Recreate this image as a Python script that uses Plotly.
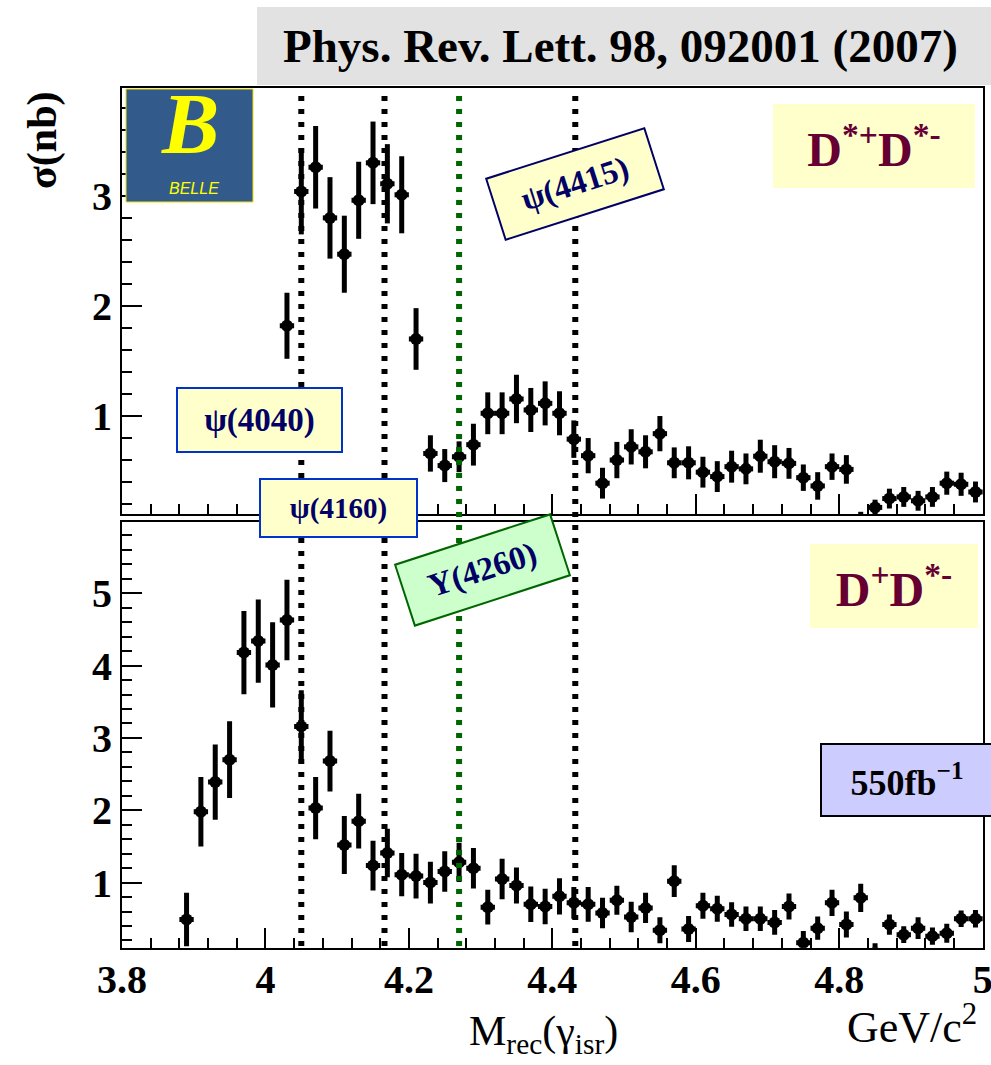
import plotly.graph_objects as go

W, H = 991, 1065

# ---------------- data ----------------
mass_gev = [3.89, 3.91, 3.93, 3.95, 3.97, 3.99, 4.01, 4.03, 4.05, 4.07,
            4.09, 4.11, 4.13, 4.15, 4.17, 4.19, 4.21, 4.23, 4.25, 4.27,
            4.29, 4.31, 4.33, 4.35, 4.37, 4.39, 4.41, 4.43, 4.45, 4.47,
            4.49, 4.51, 4.53, 4.55, 4.57, 4.59, 4.61, 4.63, 4.65, 4.67,
            4.69, 4.71, 4.73, 4.75, 4.77, 4.79, 4.81, 4.83, 4.85, 4.87,
            4.89, 4.91, 4.93, 4.95, 4.97, 4.99]
bin_half_width = [0.01] * len(mass_gev)

# D*+ D*- cross section (nb)
dstar_dstar_xs = [None, None, None, None, None, None, None, 1.82, 3.04, 3.26,
                  2.80, 2.47, 2.96, 3.30, 3.11, 3.01, 1.70, 0.66, 0.55, 0.63,
                  0.74, 1.025, 1.025, 1.155, 1.055, 1.115, 1.025, 0.79, 0.64, 0.39,
                  0.60, 0.72, 0.675, 0.84, 0.575, 0.575, 0.49, 0.45, 0.54, 0.52,
                  0.635, 0.585, 0.57, 0.44, 0.365, 0.54, 0.515, 0.05, 0.17, 0.25,
                  0.265, 0.23, 0.265, 0.39, 0.38, 0.31]
dstar_dstar_err = [0, 0, 0, 0, 0, 0, 0, 0.30, 0.39, 0.375,
                   0.37, 0.35, 0.35, 0.375, 0.36, 0.35, 0.28, 0.165, 0.15, 0.14,
                   0.19, 0.19, 0.19, 0.22, 0.20, 0.20, 0.20, 0.17, 0.16, 0.14,
                   0.165, 0.16, 0.15, 0.16, 0.14, 0.15, 0.14, 0.14, 0.145, 0.14,
                   0.15, 0.15, 0.14, 0.12, 0.125, 0.12, 0.13, 0.08, 0.07, 0.09,
                   0.09, 0.09, 0.09, 0.105, 0.105, 0.095]

# D+ D*- cross section (nb)
dplus_dstar_xs = [0.49, 1.98, 2.39, 2.70, 4.18, 4.34, 4.01, 4.63, 3.16, 2.03,
                  2.68, 1.52, 1.85, 1.235, 1.41, 1.11, 1.09, 1.00, 1.155, 1.28,
                  1.20, 0.66, 1.05, 0.96, 0.70, 0.67, 0.81, 0.72, 0.70, 0.58,
                  0.755, 0.525, 0.65, 0.34, 1.02, 0.36, 0.68, 0.64, 0.56, 0.50,
                  0.50, 0.45, 0.67, 0.17, 0.37, 0.72, 0.42, 0.79, 0.03, 0.42,
                  0.28, 0.37, 0.26, 0.30, 0.50, 0.50]
dplus_dstar_err = [0.37, 0.48, 0.52, 0.53, 0.575, 0.575, 0.59, 0.556, 0.50, 0.43,
                   0.42, 0.40, 0.38, 0.345, 0.335, 0.30, 0.31, 0.29, 0.28, 0.27,
                   0.28, 0.24, 0.28, 0.25, 0.245, 0.245, 0.25, 0.22, 0.24, 0.21,
                   0.20, 0.21, 0.21, 0.18, 0.22, 0.18, 0.18, 0.18, 0.17, 0.17,
                   0.17, 0.17, 0.18, 0.16, 0.16, 0.18, 0.18, 0.195, 0.13, 0.14,
                   0.115, 0.15, 0.12, 0.13, 0.115, 0.12]

resonance_names = ["ψ(4040)", "ψ(4160)", "Y(4260)", "ψ(4415)"]
resonance_mass = [4.05, 4.166, 4.27, 4.432]
resonance_color = ["black", "black", "#006600", "black"]

x_tick_vals = [3.8, 4.0, 4.2, 4.4, 4.6, 4.8, 5.0]
x_tick_text = ["3.8", "4", "4.2", "4.4", "4.6", "4.8", "5"]
top_y_ticks = [1, 2, 3]
bottom_y_ticks = [1, 2, 3, 4, 5]


def px(x):
    return x / W


def py(y):
    return 1 - y / H


SERIF = "Liberation Serif"
xdom = [px(122), px(983)]
top_dom = [py(514), py(88)]
bot_dom = [py(947.7), py(521.7)]

fig = go.Figure()

marker = dict(symbol="circle", size=12, color="black")
ex = dict(type="data", array=bin_half_width, thickness=5, width=0, color="black")

fig.add_trace(go.Scatter(
    x=mass_gev, y=dstar_dstar_xs, mode="markers", marker=marker,
    error_y=dict(type="data", array=dstar_dstar_err, thickness=5, width=0, color="black"),
    error_x=ex, xaxis="x2", yaxis="y2", showlegend=False))

fig.add_trace(go.Scatter(
    x=mass_gev, y=dplus_dstar_xs, mode="markers", marker=marker,
    error_y=dict(type="data", array=dplus_dstar_err, thickness=5, width=0, color="black"),
    error_x=ex, xaxis="x", yaxis="y", showlegend=False))

tickfont = dict(family=SERIF, size=40, color="black", weight="bold")

axis_common = dict(showline=True, linecolor="black", linewidth=2, mirror=True,
                   showgrid=False, zeroline=False, ticks="inside", ticklen=20,
                   tickwidth=2, tickcolor="black", tickfont=tickfont, automargin=False,
                   ticklabeloverflow="allow")

xminor = dict(ticks="inside", ticklen=10, tickwidth=2, tickcolor="black",
              tickmode="linear", tick0=3.8, dtick=0.04)
yminor = dict(ticks="inside", ticklen=10, tickwidth=2, tickcolor="black",
              tickmode="linear", tick0=0, dtick=0.2)

fig.update_layout(
    width=W, height=H,
    margin=dict(l=0, r=0, t=0, b=0, autoexpand=False),
    paper_bgcolor="white", plot_bgcolor="white",
    xaxis=dict(domain=xdom, range=[3.8, 5.0005], anchor="y",
               tickmode="array", tickvals=x_tick_vals, ticktext=x_tick_text,
               ticklabelstandoff=-5, minor=xminor, **axis_common),
    xaxis2=dict(domain=xdom, range=[3.8, 5.0005], anchor="y2", matches="x",
                tickmode="array", tickvals=x_tick_vals, showticklabels=False,
                minor=xminor, **axis_common),
    yaxis=dict(domain=bot_dom, range=[0.10, 5.99], anchor="x",
               tickmode="array", tickvals=bottom_y_ticks, minor=yminor, **axis_common),
    yaxis2=dict(domain=top_dom, range=[0.11, 3.98], anchor="x2",
                tickmode="array", tickvals=top_y_ticks, minor=yminor, **axis_common),
)

shapes = []
# title gray banner
shapes.append(dict(type="rect", xref="paper", yref="paper",
                   x0=px(257), x1=px(991), y0=py(85), y1=py(7),
                   fillcolor="#e2e2e2", line=dict(width=0), layer="below"))
# Belle logo background
shapes.append(dict(type="rect", xref="paper", yref="paper",
                   x0=px(126), x1=px(253), y0=py(202), y1=py(89),
                   fillcolor="#325b8c", line=dict(color="#f0e000", width=1), layer="above"))
# resonance lines
for m, c in zip(resonance_mass, resonance_color):
    shapes.append(dict(type="line", xref="x", yref="paper", x0=m, x1=m,
                       y0=py(946), y1=py(96),
                       line=dict(color=c, width=6, dash="5px,8px")))
fig.update_layout(shapes=shapes)

ann = []
ann.append(dict(text="<b>Phys. Rev. Lett. 98, 092001 (2007)</b>", x=px(620), y=py(46),
                font=dict(family=SERIF, size=47, color="black")))
# Belle logo text
ann.append(dict(text="<b><i>B</i></b>", x=px(190), y=py(124),
                font=dict(family=SERIF, size=86, color="#ffff00")))
ann.append(dict(text="<i>BELLE</i>", x=px(194), y=py(189),
                font=dict(family="Liberation Sans", size=16, color="#ffff00")))
# axis titles
ann.append(dict(text="<b>σ(nb)</b>", x=px(42), y=py(140), textangle=-90,
                font=dict(family=SERIF, size=42, color="black")))
ann.append(dict(text="M<sub>rec</sub>(γ<sub>isr</sub>)", x=px(543), y=py(1034),
                font=dict(family=SERIF, size=42, color="black")))
ann.append(dict(text="GeV/c<sup>2</sup>", x=px(912), y=py(1024),
                font=dict(family=SERIF, size=44, color="black")))

label_font = dict(family=SERIF, size=33, color="#000066", weight="bold")
ann.append(dict(text=resonance_names[0], x=px(259), y=py(420), width=163, height=62,
                bgcolor="#ffffcc", bordercolor="#0033cc", borderwidth=2, borderpad=0,
                font=label_font))
ann.append(dict(text=resonance_names[1], x=px(338), y=py(508), width=155, height=56,
                bgcolor="#ffffcc", bordercolor="#0033cc", borderwidth=2, borderpad=0,
                font=dict(family=SERIF, size=29, color="#000066", weight="bold")))
ann.append(dict(text=resonance_names[3], x=px(575), y=py(184), width=164, height=62,
                textangle=-17.7, bgcolor="#ffffcc", bordercolor="#000066", borderwidth=2,
                borderpad=0, font=label_font))
ann.append(dict(text=resonance_names[2], x=px(482.5), y=py(570), width=161, height=62,
                textangle=-18, bgcolor="#ccffcc", bordercolor="#006600", borderwidth=2,
                borderpad=0, font=label_font))
# channel labels
chan_font = dict(family=SERIF, size=48, color="#660033", weight="bold")
ann.append(dict(text="D<sup>*+</sup>D<sup>*-</sup>", x=px(874), y=py(146), width=202, height=84,
                bgcolor="#ffffcc", borderwidth=0, borderpad=0, font=chan_font))
ann.append(dict(text="D<sup>+</sup>D<sup>*-</sup>", x=px(894), y=py(586), width=168, height=84,
                bgcolor="#ffffcc", borderwidth=0, borderpad=0, font=chan_font))
ann.append(dict(text="550fb<sup>−1</sup>", x=px(907), y=py(780), width=170, height=70,
                bgcolor="#ccccff", bordercolor="black", borderwidth=2, borderpad=0,
                font=dict(family=SERIF, size=36, color="black", weight="bold")))

for a in ann:
    a.update(xref="paper", yref="paper", showarrow=False, xanchor="center", yanchor="middle")
fig.update_layout(annotations=ann)

fig.write_html("out.html", config={"displayModeBar": False},
               post_script="document.body.style.margin='0';")
